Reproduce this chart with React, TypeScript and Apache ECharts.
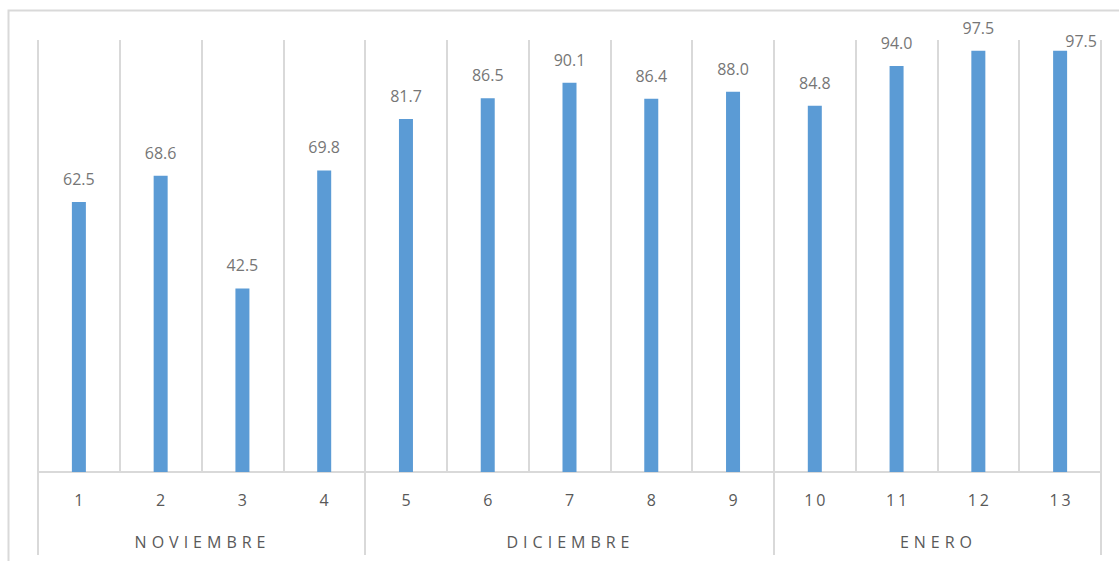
import React, { useEffect, useRef } from "react";
import * as echarts from "echarts";

const categories = ["1", "2", "3", "4", "5", "6", "7", "8", "9", "10", "11", "12", "13"];
const values = [62.5, 68.6, 42.5, 69.8, 81.7, 86.5, 90.1, 86.4, 88.0, 84.8, 94.0, 97.5, 97.5];
const groupNames = ["NOVIEMBRE", "DICIEMBRE", "ENERO"];
const groupBoundaries = [0, 4, 9, 13];
const groupCenters = [2, 6.5, 11];

const css = `
text[style*="spacednum"], text[font-family*="spacednum"] { letter-spacing: 3px; }
text[style*="spacedgrp"], text[font-family*="spacedgrp"] { letter-spacing: 5px; }
`;

export default function App() {
  const ref = useRef<HTMLDivElement>(null);
  useEffect(() => {
    if (!ref.current) return;
    const chart = echarts.init(ref.current, null, { renderer: "svg" });
    const grey = "#d9d9d9";
    const axisText = "#595959";
    const labelText = "#767676";
    const font = "'Open Sans', 'Noto Sans', sans-serif";
    chart.setOption({
      animation: false,
      graphic: [
        {
          type: "rect",
          shape: { x: 8.5, y: 10.5, width: 1200, height: 700 },
          style: { fill: "none", stroke: grey, lineWidth: 2 },
          silent: true,
          z: 0,
        },
      ],
      grid: { left: 38, right: 18, top: 40, bottom: 89, containLabel: false },
      xAxis: [
        {
          type: "category",
          data: categories,
          boundaryGap: true,
          axisLine: { show: true, lineStyle: { color: grey, width: 2 } },
          axisTick: { show: false },
          splitLine: { show: true, lineStyle: { color: grey, width: 2 } },
          axisLabel: {
            color: axisText,
            fontSize: 16,
            margin: 20,
            fontFamily: "'Open Sans', spacednum, sans-serif",
            interval: 0,
            padding: [0, 0, 0, 3],
          },
        },
        {
          type: "value",
          min: 0,
          max: 13,
          position: "bottom",
          axisLine: { show: false },
          splitLine: { show: false },
          axisTick: {
            show: true,
            customValues: groupBoundaries,
            length: 83,
            lineStyle: { color: grey, width: 2 },
          },
          axisLabel: {
            show: true,
            customValues: groupCenters,
            color: axisText,
            fontSize: 16,
            margin: 62,
            fontFamily: "'Open Sans', spacedgrp, sans-serif",
            padding: [0, 0, 0, 2],
            formatter: (v: number) => {
              const i = groupCenters.indexOf(v);
              return i >= 0 ? groupNames[i] : "";
            },
          },
        },
      ],
      yAxis: {
        type: "value",
        min: 0,
        max: 100,
        show: false,
        splitLine: { show: false },
      },
      series: [
        {
          type: "bar",
          xAxisIndex: 0,
          barWidth: 14,
          itemStyle: { color: "#5B9BD5" },
          label: {
            show: true,
            position: "top",
            distance: 15,
            color: labelText,
            fontSize: 16,
            fontFamily: font,
            formatter: (p: any) => Number(p.value).toFixed(1),
          },
          data: values.map((v, i) =>
            i === values.length - 1
              ? { value: v, label: { offset: [21, 13] } }
              : v
          ),
        },
      ],
    });
    return () => chart.dispose();
  }, []);
  return (
    <>
      <style>{css}</style>
      <div
        ref={ref}
        style={{ position: "absolute", left: 0, top: 0, width: 1119, height: 561, background: "#fff" }}
      />
    </>
  );
}
